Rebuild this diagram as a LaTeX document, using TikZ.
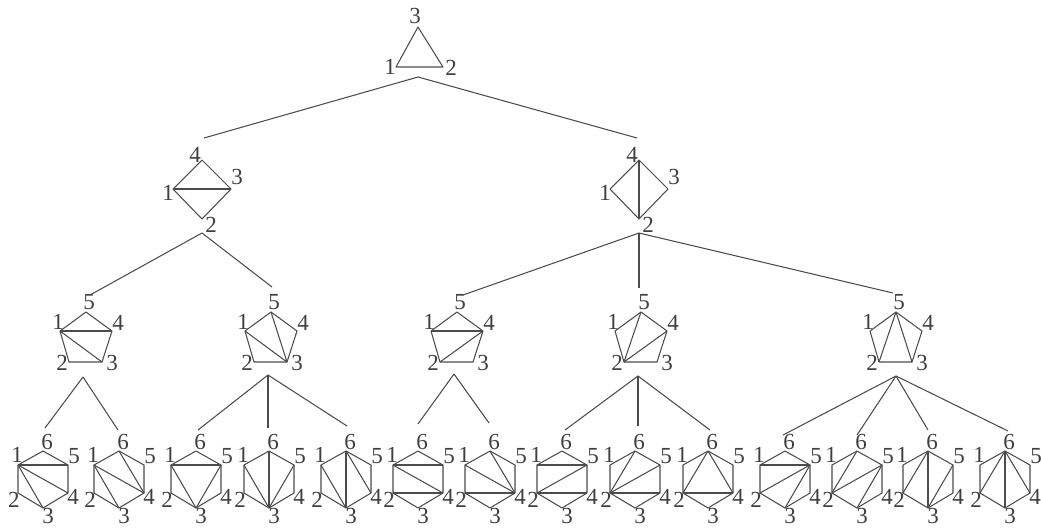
\documentclass[tikz,border=0pt]{standalone}
\usepackage{fontspec}
\setmainfont{Liberation Serif}
\tikzset{
  edge/.style={draw=black!70,line width=1.05pt,line join=round},
  chord/.style={draw=black!70,line width=1.05pt},
  lab/.style={inner sep=0pt,text=black!75,font=\fontsize{23}{23}\selectfont},
}
% vertices: name-k; labels: name-lk
\newcommand{\placeV}[4]{\coordinate (#1-#2) at (#3,#4);}
\newcommand{\placeL}[4]{\node[lab] (#1-l#2) at (#3,#4) {#2};}
\newcommand{\chords}[2]{\foreach \a/\b in {#2} {\draw[chord] (#1-\a) -- (#1-\b);}}
\newcommand{\hexa}[3]{%
  \placeV{#1}{6}{#2}{451}\placeV{#1}{1}{#2-25}{465}\placeV{#1}{5}{#2+25}{465}%
  \placeV{#1}{4}{#2+25}{493}\placeV{#1}{3}{#2}{508}\placeV{#1}{2}{#2-25}{493}%
  \draw[edge] (#1-1)--(#1-6)--(#1-5)--(#1-4)--(#1-3)--(#1-2)--cycle;%
  \chords{#1}{#3}%
  \placeL{#1}{6}{#2+4}{442}\placeL{#1}{1}{#2-26}{455}\placeL{#1}{5}{#2+31}{456}%
  \placeL{#1}{4}{#2+30}{497}\placeL{#1}{2}{#2-29}{500}\placeL{#1}{3}{#2+5}{516}%
}
\newcommand{\penta}[3]{%
  \placeV{#1}{5}{#2}{312}\placeV{#1}{1}{#2-26}{331}\placeV{#1}{4}{#2+26}{331}%
  \placeV{#1}{3}{#2+16}{362}\placeV{#1}{2}{#2-17}{362}%
  \draw[edge] (#1-1)--(#1-5)--(#1-4)--(#1-3)--(#1-2)--cycle;%
  \chords{#1}{#3}%
  \placeL{#1}{5}{#2+3}{302}\placeL{#1}{1}{#2-28}{322}\placeL{#1}{4}{#2+32}{323}%
  \placeL{#1}{2}{#2-24}{363}\placeL{#1}{3}{#2+26}{363}%
}
\newcommand{\diam}[3]{%
  \placeV{#1}{4}{#2}{160}\placeV{#1}{1}{#2-29}{189}\placeV{#1}{3}{#2+29}{189}\placeV{#1}{2}{#2}{219}%
  \draw[edge] (#1-1)--(#1-4)--(#1-3)--(#1-2)--cycle;%
  \chords{#1}{#3}%
  \placeL{#1}{4}{#2-7}{155}\placeL{#1}{1}{#2-34}{193}\placeL{#1}{3}{#2+35}{177}\placeL{#1}{2}{#2+9}{225}%
}
\begin{document}
\begin{tikzpicture}[x=1pt,y=-1pt]
\useasboundingbox (0,0) rectangle (1041,528);
\fill[white] (0,0) rectangle (1041,528);
% root
\coordinate (t-3) at (418,27);
\coordinate (t-1) at (396,67);
\coordinate (t-2) at (443,67);
\draw[edge] (t-1)--(t-3)--(t-2)--cycle;
\node[lab] (t-l3) at (415,16) {3};
\node[lab] (t-l1) at (390,67) {1};
\node[lab] (t-l2) at (451,68) {2};
% second level
\diam{dl}{202}{1/3}
\diam{dr}{639}{4/2}
% third level
\penta{p1}{86}{1/4,1/3}
\penta{p2}{271}{1/3,5/3}
\penta{p3}{457}{1/4,2/4}
\penta{p4}{641}{5/2,2/4}
\penta{p5}{896}{5/2,5/3}
% fourth level
\hexa{h1}{43}{1/5,1/4,1/3}
\hexa{h2}{119}{1/3,1/4,6/4}
\hexa{h3}{196}{1/5,1/3,5/3}
\hexa{h4}{269}{1/3,6/3,5/3}
\hexa{h5}{346}{1/3,6/3,6/4}
\hexa{h6}{418}{1/5,1/4,2/4}
\hexa{h7}{490}{1/4,6/4,2/4}
\hexa{h8}{562}{1/5,2/5,2/4}
\hexa{h9}{635}{6/2,5/2,2/4}
\hexa{h10}{708}{6/2,6/4,2/4}
\hexa{h11}{785}{1/5,5/2,5/3}
\hexa{h12}{857}{6/2,5/2,5/3}
\hexa{h13}{928}{6/2,6/3,5/3}
\hexa{h14}{1005}{6/2,6/3,6/4}
% junction points and free connector ends
\coordinate (jt) at (418,77);
\coordinate (jdl) at (202,233);
\coordinate (jdr) at (639,233);
\coordinate (jp1) at (83,377);
\coordinate (jp2) at (268,375);
\coordinate (jp3) at (454,374);
\coordinate (jp4) at (638,376);
\coordinate (jp5) at (896,376);
\foreach \n/\x/\y in {edl/204/138,edr/637/138,ep1/90/295,ep2/272/287,ep3/463/295,ep4/639/288,ep5/893/293,
  eh1/45/428,eh2/118/430,eh3/198/430,eh4/268/428,eh5/347/426,eh6/418/424,eh7/489/423,
  eh8/565/430,eh9/638/426,eh10/710/430,eh11/783/435,eh12/857/435,eh13/928/430,eh14/1008/431}
  {\coordinate (\n) at (\x,\y);}
\foreach \a/\b in {jt/edl,jt/edr,jdl/ep1,jdl/ep2,jdr/ep3,jdr/ep4,jdr/ep5,
  jp1/eh1,jp1/eh2,jp2/eh3,jp2/eh4,jp2/eh5,jp3/eh6,jp3/eh7,jp4/eh8,jp4/eh9,jp4/eh10,
  jp5/eh11,jp5/eh12,jp5/eh13,jp5/eh14}
  {\draw[edge] (\a) -- (\b);}
\end{tikzpicture}
\end{document}
